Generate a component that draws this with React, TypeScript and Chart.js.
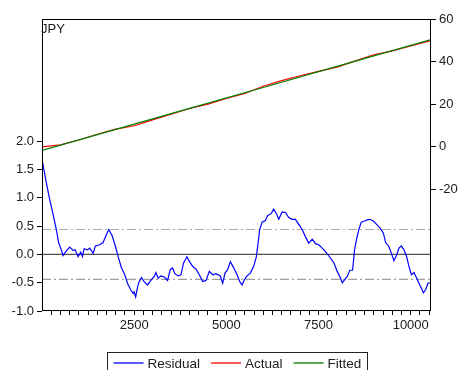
import React, { useEffect, useRef } from "react";
import { Chart, registerables } from "chart.js";

Chart.register(...registerables);

const seriesTitle = "JPY";

const residualX = [
  0, 117, 209, 299, 389, 453, 525, 570, 634, 752, 842, 900, 978, 1051, 1096, 1141, 1232, 1295, 1386, 1449,
  1567, 1657, 1748, 1811, 1902, 1993, 2065, 2156, 2246, 2318, 2409, 2473, 2500, 2540, 2600, 2636, 2699, 2771,
  2862, 2953, 3043, 3089, 3152, 3224, 3315, 3405, 3478, 3541, 3604, 3695, 3768, 3840, 3931, 3994, 4084, 4176,
  4266, 4356, 4448, 4538, 4627, 4719, 4836, 4899, 4963, 5034, 5108, 5185, 5290, 5361, 5426, 5488, 5562, 5651,
  5741, 5814, 5860, 5904, 5969, 6059, 6122, 6214, 6285, 6358, 6421, 6513, 6602, 6692, 6785, 6874, 6964, 7056,
  7146, 7235, 7328, 7417, 7507, 7600, 7689, 7806, 7915, 8007, 8097, 8143, 8205, 8278, 8349, 8423, 8477, 8531,
  8594, 8659, 8749, 8822, 8893, 8985, 9075, 9165, 9257, 9320, 9409, 9474, 9545, 9618, 9681, 9746, 9817, 9890,
  9952, 10018, 10088, 10162, 10224, 10289, 10344, 10406, 10469, 10523,
];
const residualY = [
  1.68, 1.27, 0.97, 0.71, 0.44, 0.2, 0.08, -0.02, 0.04, 0.13, 0.07, 0.08, -0.04, 0.04, -0.04, 0.1, 0.08, 0.11, 0.02, 0.15,
  0.17, 0.21, 0.35, 0.44, 0.33, 0.14, -0.04, -0.24, -0.36, -0.51, -0.63, -0.69, -0.66, -0.75, -0.55, -0.48, -0.41, -0.48,
  -0.54, -0.46, -0.39, -0.32, -0.42, -0.38, -0.4, -0.46, -0.27, -0.24, -0.34, -0.38, -0.36, -0.15, -0.04, -0.12, -0.21, -0.26,
  -0.36, -0.48, -0.46, -0.3, -0.36, -0.34, -0.38, -0.51, -0.33, -0.27, -0.13, -0.22, -0.36, -0.48, -0.54, -0.45, -0.38, -0.33,
  -0.21, -0.04, 0.2, 0.44, 0.57, 0.6, 0.69, 0.72, 0.8, 0.72, 0.62, 0.75, 0.74, 0.65, 0.62, 0.62, 0.53, 0.44,
  0.31, 0.2, 0.27, 0.19, 0.17, 0.11, 0.05, -0.05, -0.15, -0.3, -0.42, -0.5, -0.45, -0.39, -0.28, -0.28, 0.08, 0.27,
  0.44, 0.57, 0.59, 0.61, 0.62, 0.59, 0.53, 0.47, 0.38, 0.21, 0.14, 0.02, -0.11, -0.01, 0.11, 0.15, 0.08, -0.04,
  -0.21, -0.36, -0.32, -0.42, -0.51, -0.6, -0.68, -0.62, -0.51, -0.5,
];

const fittedX = [0, 2000, 4000, 6000, 8000, 10550];
const fittedY = [-1.8, 8.1, 18.0, 27.8, 37.7, 50.3];

const actualX = [0, 500, 1000, 1500, 2000, 2500, 3000, 3500, 4000, 4500, 5000, 5500, 6000, 6500, 7000, 7500, 8000, 8500, 9000, 9500, 10000, 10550];
const actualY = [-0.15, 0.8, 3.1, 5.8, 8.2, 9.8, 12.6, 15.2, 17.9, 20.0, 22.6, 25.0, 28.4, 31.0, 33.3, 35.4, 37.4, 40.3, 43.2, 45.0, 47.3, 49.8];

const leftTicks = [-1, -0.5, 0, 0.5, 1, 1.5, 2];
const rightTicks = [-20, 0, 20, 40, 60];
const xLabelTicks = [2500, 5000, 7500, 10000];
const xMinorStep = 250;
const xMin = 0;
const xMax = 10550;
const bandLevel = 0.44;

const FONT = "'Liberation Sans', Arial, sans-serif";
const TEXT = "#202020";

const legendItems = [
  { label: "Residual", color: "#5a5aff" },
  { label: "Actual", color: "#ff5a5a" },
  { label: "Fitted", color: "#5aaa5a" },
];

export default function App() {
  const ref = useRef<HTMLCanvasElement | null>(null);

  useEffect(() => {
    document.body.style.margin = "0";
    const canvas = ref.current;
    if (!canvas) return;

    const minorTicks: number[] = [];
    for (let v = xMinorStep; v <= xMax; v += xMinorStep) minorTicks.push(v);

    const framePlugin = {
      id: "frame",
      afterDraw(chart: any) {
        const { ctx, chartArea } = chart;
        const l = Math.round(chartArea.left) + 0.5;
        const t = Math.round(chartArea.top) + 0.5;
        const r = Math.round(chartArea.right) - 0.5;
        const b = Math.round(chartArea.bottom) - 0.5;
        ctx.save();
        ctx.strokeStyle = "#000";
        ctx.lineWidth = 1;
        ctx.strokeRect(l, t, r - l, b - t);
        // title
        ctx.fillStyle = TEXT;
        ctx.font = `13px ${FONT}`;
        ctx.textBaseline = "alphabetic";
        ctx.textAlign = "left";
        ctx.fillText(seriesTitle, chartArea.left - 1, chartArea.top + 14);
        // legend
        ctx.font = `13.5px ${FONT}`;
        const lineLen = 30;
        const gapText = 4;
        const gapItem = 11;
        const widths = legendItems.map((it) => lineLen + gapText + ctx.measureText(it.label).width);
        const total = widths.reduce((a, w) => a + w, 0) + gapItem * (legendItems.length - 1);
        const padX = 6;
        const cx = (chartArea.left + chartArea.right) / 2;
        const boxL = Math.round(cx - total / 2 - padX) + 0.5;
        const boxW = Math.round(total + padX * 2);
        const boxT = 352.5;
        ctx.strokeStyle = "#222";
        ctx.lineWidth = 1;
        ctx.strokeRect(boxL, boxT, boxW, 40);
        let x = boxL + padX;
        const yMid = 363;
        ctx.textBaseline = "middle";
        legendItems.forEach((it, i) => {
          ctx.strokeStyle = it.color;
          ctx.lineWidth = 2;
          ctx.beginPath();
          ctx.moveTo(x, yMid);
          ctx.lineTo(x + lineLen, yMid);
          ctx.stroke();
          ctx.fillStyle = TEXT;
          ctx.fillText(it.label, x + lineLen + gapText, yMid + 1);
          x += widths[i] + gapItem;
        });
        ctx.restore();
      },
    };

    const pts = (xs: number[], ys: number[]) => xs.map((x, i) => ({ x, y: ys[i] }));

    const chart = new Chart(canvas, {
      type: "line",
      data: {
        datasets: [
          { label: "Residual", data: pts(residualX, residualY), borderColor: "#0000ff", borderWidth: 1.2, pointRadius: 0, yAxisID: "y", order: 0 },
          { label: "Actual", data: pts(actualX, actualY), borderColor: "#ff0000", borderWidth: 1.2, pointRadius: 0, yAxisID: "y1", order: 2 },
          { label: "Fitted", data: pts(fittedX, fittedY), borderColor: "#008000", borderWidth: 1.2, pointRadius: 0, yAxisID: "y1", order: 1 },
          { label: "zero", data: [{ x: xMin, y: 0 }, { x: xMax, y: 0 }], borderColor: "#505050", borderWidth: 1.3, pointRadius: 0, yAxisID: "y", order: 5 },
          { label: "upper", data: [{ x: xMin, y: bandLevel }, { x: xMax, y: bandLevel }], borderColor: "#a8a8a8", borderWidth: 1, borderDash: [9, 3, 2, 3], pointRadius: 0, yAxisID: "y", order: 5 },
          { label: "lower", data: [{ x: xMin, y: -bandLevel }, { x: xMax, y: -bandLevel }], borderColor: "#888888", borderWidth: 1, borderDash: [9, 3, 2, 3], pointRadius: 0, yAxisID: "y", order: 5 },
        ],
      },
      options: {
        animation: false,
        responsive: false,
        layout: { padding: { top: 19, left: 0, right: 0, bottom: 0 } },
        plugins: { legend: { display: false }, tooltip: { enabled: false } },
        elements: { line: { tension: 0 } },
        scales: {
          x: {
            type: "linear",
            min: xMin,
            max: xMax,
            afterBuildTicks: (s: any) => {
              s.ticks = minorTicks.map((v) => ({ value: v }));
            },
            afterFit: (s: any) => {
              s.height = 59;
            },
            ticks: {
              autoSkip: false,
              maxRotation: 0,
              padding: 3,
              color: TEXT,
              font: { family: FONT, size: 13 },
              callback: (v: any) => (xLabelTicks.includes(Number(v)) ? String(v) : ""),
            },
            grid: { drawOnChartArea: false, drawTicks: true, tickLength: 4, color: "#000" },
            border: { display: false },
          },
          y: {
            position: "left",
            min: -1,
            max: 4.16,
            afterBuildTicks: (s: any) => {
              s.ticks = leftTicks.map((v) => ({ value: v }));
            },
            afterFit: (s: any) => {
              s.width = 42;
            },
            ticks: {
              padding: 3,
              color: TEXT,
              font: { family: FONT, size: 13 },
              callback: (v: any) => Number(v).toFixed(1),
            },
            grid: { drawOnChartArea: false, drawTicks: true, tickLength: 5, color: "#000" },
            border: { display: false },
          },
          y1: {
            position: "right",
            min: -77.3,
            max: 60,
            afterBuildTicks: (s: any) => {
              s.ticks = rightTicks.map((v) => ({ value: v }));
            },
            afterFit: (s: any) => {
              s.width = 27;
            },
            ticks: {
              padding: 3,
              color: TEXT,
              font: { family: FONT, size: 13 },
              callback: (v: any) => String(v),
            },
            grid: { drawOnChartArea: false, drawTicks: true, tickLength: 5, color: "#000" },
            border: { display: false },
          },
        },
      },
      plugins: [framePlugin],
    } as any);

    return () => chart.destroy();
  }, []);

  return (
    <div style={{ width: 458, height: 370, background: "#fff" }}>
      <canvas ref={ref} width={458} height={370} style={{ display: "block" }} />
    </div>
  );
}
